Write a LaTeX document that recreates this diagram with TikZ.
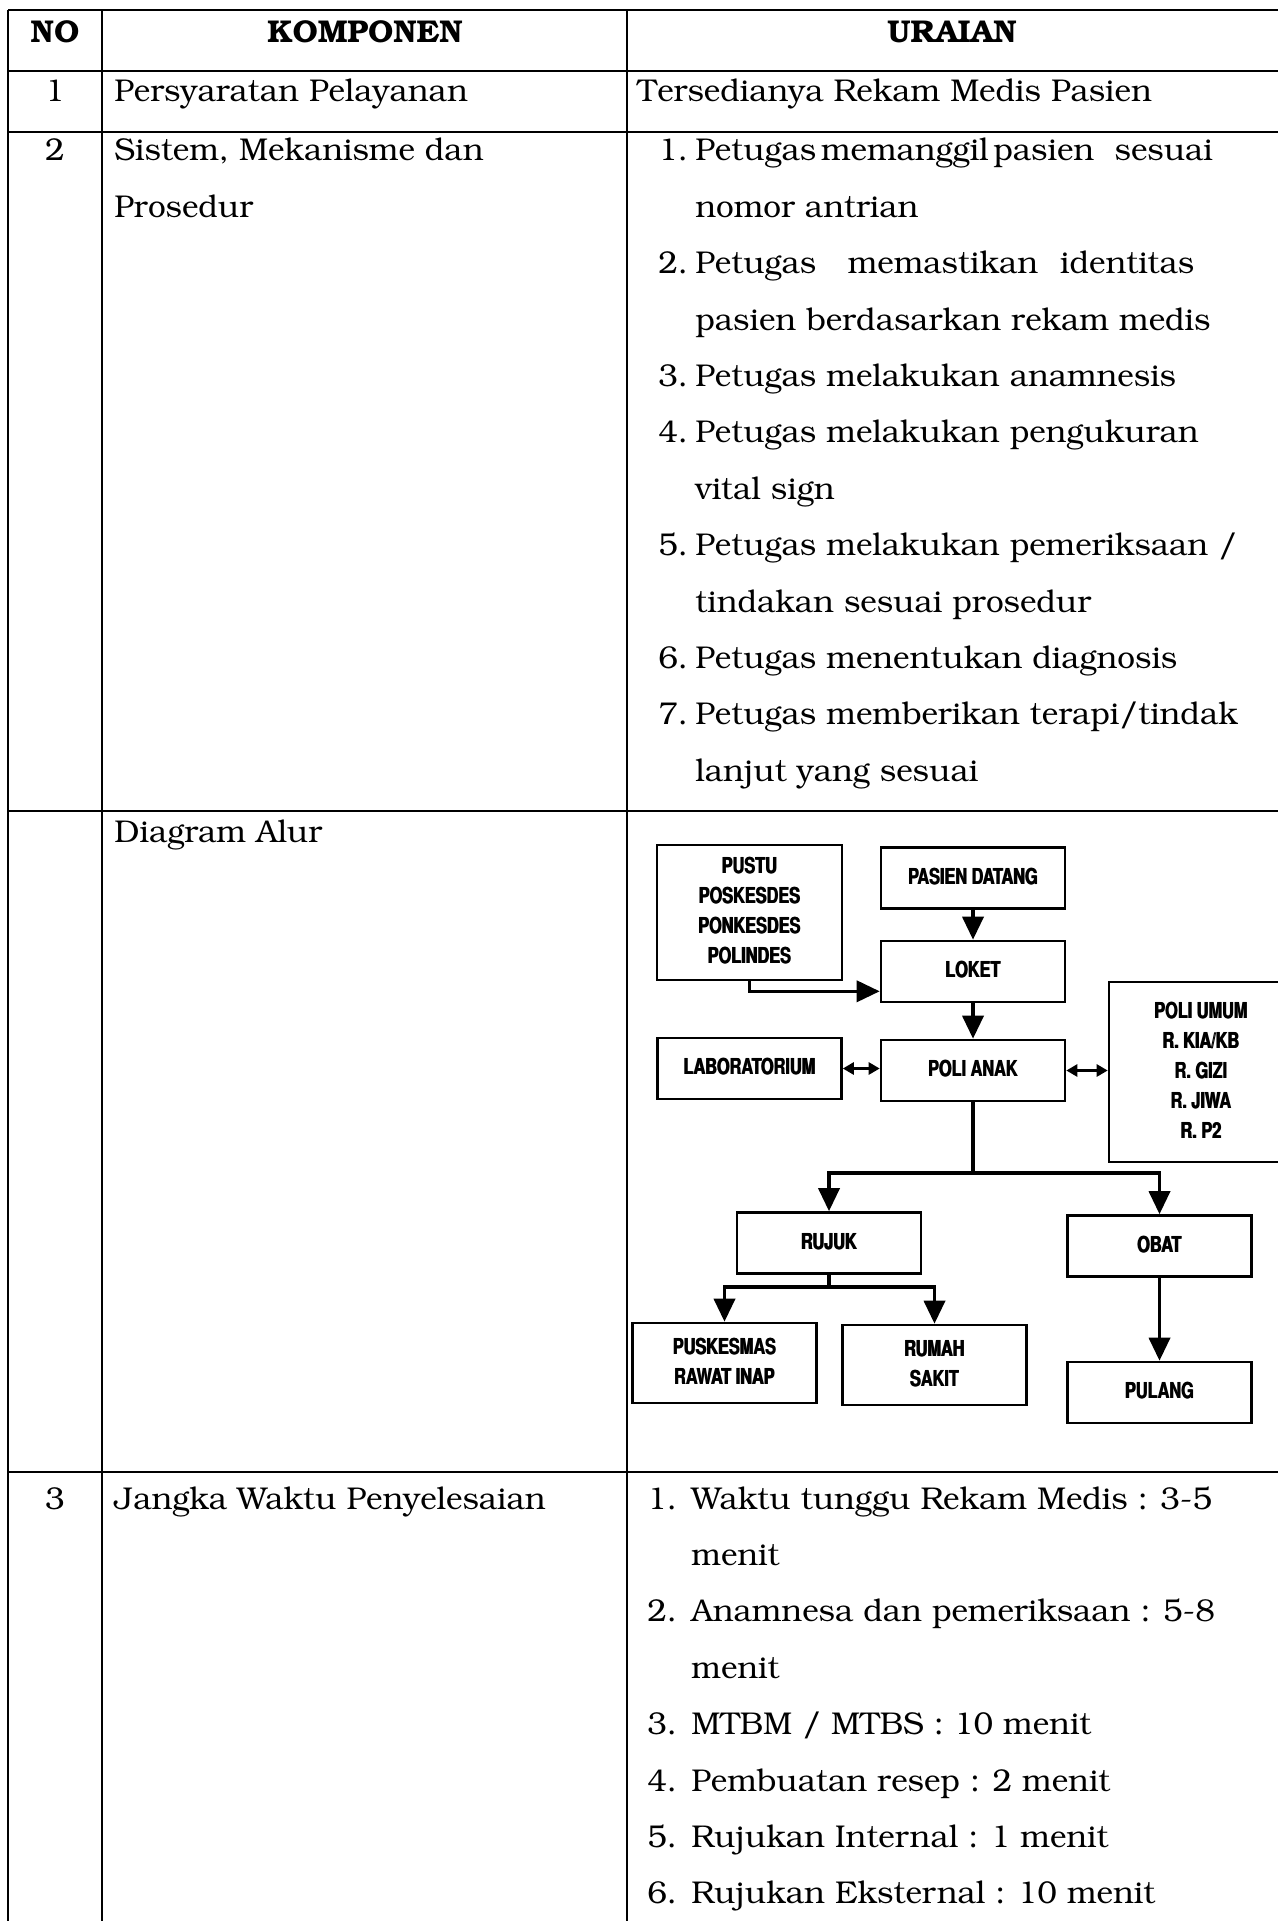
\documentclass[tikz,border=0pt]{standalone}
\usepackage[T1]{fontenc}
\usepackage{bookman}
\usepackage{graphicx}
\usetikzlibrary{arrows.meta}
\newcommand{\flowbody}[1]{\scalebox{0.74}[1]{\fontfamily{phv}\fontseries{b}\fontsize{11}{15}\selectfont\begin{tabular}{@{}c@{}}#1\end{tabular}}}
\newcommand{\flowtext}[1]{\rlap{\flowbody{#1}}\kern0.45pt\flowbody{#1}}
\begin{document}
\begin{tikzpicture}[x=0.5pt,y=-0.5pt,
    tableline/.style={line width=1.2pt},
    celltext/.style={inner sep=0pt,anchor=base west,font=\fontsize{15.75}{28.2}\selectfont},
    numtext/.style={inner sep=0pt,anchor=base,font=\fontsize{15.75}{28.2}\selectfont},
    headtext/.style={inner sep=0pt,anchor=base,font=\fontsize{15.75}{28.2}\selectfont\bfseries},
    flowbox/.style={draw,line width=1.3pt,inner sep=0pt,minimum width=92pt,minimum height=30.5pt},
    flowline/.style={line width=1.8pt},
    flowarrow/.style={line width=1.8pt,-{Triangle[length=11.5pt,width=10.5pt]}},
    twoway/.style={line width=1.3pt,{Triangle[length=5.5pt,width=6pt]}-{Triangle[length=5.5pt,width=6pt]}}]
  \fill[white] (0,0) rectangle (1278,1921);
  \useasboundingbox (0,0) rectangle (1278,1921);
  \foreach \y in {10,71,132,811,1472}
    \draw[tableline] (8,\y) -- (1278,\y);
  \foreach \x in {8,102,627}
    \draw[tableline] (\x,10) -- (\x,1921);
  \node[headtext] (hno) at (55,43) {NO};
  \node[headtext] (hkomponen) at (365,43) {KOMPONEN};
  \node[headtext] (huraian) at (952,43) {URAIAN};
  \node[numtext] (no1) at (55,102) {1};
  \node[celltext] (komponen1) at (114,102) {Persyaratan Pelayanan};
  \node[celltext] (uraian1) at (637,102) {Tersedianya Rekam Medis Pasien};
  \node[numtext] (no2) at (55,161) {2};
  \node[celltext] (komponen2) at (114,161) {\begin{tabular}[t]{@{}l@{}}Sistem, Mekanisme dan\\Prosedur\end{tabular}};
  \node[celltext] (uraian2) at (658,161) {\begin{tabular}[t]{@{}p{18.5pt}@{}l@{}}
    1. & Petugas\hspace{.15em}memanggil\hspace{.15em}pasien\hspace{.65em}sesuai\\
       & nomor antrian\\
    2. & Petugas\hspace{1em}memastikan\hspace{.7em}identitas\\
       & pasien berdasarkan rekam medis\\
    3. & Petugas melakukan anamnesis\\
    4. & Petugas melakukan pengukuran\\
       & vital sign\\
    5. & Petugas melakukan pemeriksaan /\\
       & tindakan sesuai prosedur\\
    6. & Petugas menentukan diagnosis\\
    7. & Petugas memberikan terapi/tindak\\
       & lanjut yang sesuai
  \end{tabular}};
  \node[celltext] (komponen3) at (114,842) {Diagram Alur};
  \node[numtext] (no3) at (55,1509) {3};
  \node[celltext] (komponen4) at (114,1509) {Jangka Waktu Penyelesaian};
  \node[celltext] (uraian4) at (647,1509) {\begin{tabular}[t]{@{}p{22pt}@{}l@{}}
    1. & Waktu tunggu Rekam Medis : 3-5\\
       & menit\\
    2. & Anamnesa dan pemeriksaan : 5-8\\
       & menit\\
    3. & MTBM / MTBS : 10 menit\\
    4. & Pembuatan resep : 2 menit\\
    5. & Rujukan Internal : 1 menit\\
    6. & Rujukan Eksternal : 10 menit
  \end{tabular}};
  \node[flowbox,minimum width=92.5pt,minimum height=67.5pt] (pustu) at (749.5,912.5) {\flowtext{PUSTU\\POSKESDES\\PONKESDES\\POLINDES}};
  \node[flowbox] (pasien) at (973,878) {\flowtext{PASIEN DATANG}};
  \node[flowbox] (loket) at (973,971.5) {\flowtext{LOKET}};
  \node[flowbox] (lab) at (749.5,1068.5) {\flowtext{LABORATORIUM}};
  \node[flowbox] (polianak) at (973,1070.5) {\flowtext{POLI ANAK}};
  \node[flowbox,minimum height=90pt] (poliumum) at (1201,1072) {\flowtext{POLI UMUM\\R. KIA/KB\\R. GIZI\\R. JIWA\\R. P2}};
  \node[flowbox] (rujuk) at (829,1243) {\flowtext{RUJUK}};
  \node[flowbox] (obat) at (1159.5,1246) {\flowtext{OBAT}};
  \node[flowbox,minimum height=40pt] (puskesmas) at (724.5,1363) {\flowtext{PUSKESMAS\\RAWAT INAP}};
  \node[flowbox,minimum height=40pt] (rumahsakit) at (934.5,1365) {\flowtext{RUMAH\\SAKIT}};
  \node[flowbox] (pulang) at (1159.5,1392.5) {\flowtext{PULANG}};
  \coordinate (split) at (973,1173);
  \coordinate (rujuksplit) at (829,1287);
  \begin{scope}[flowarrow]
    \draw (pasien) -- (loket);
    \draw (loket) -- (polianak);
    \draw (pustu.south) |- ([yshift=6pt]loket.south west);
    \draw (split) -| (rujuk);
    \draw (split) -| (obat);
    \draw (rujuksplit) -| (puskesmas);
    \draw (rujuksplit) -| (rumahsakit);
    \draw (obat) -- (pulang);
  \end{scope}
  \draw[flowline] (polianak) -- (split);
  \draw[flowline] (rujuk) -- (rujuksplit);
  \draw[twoway] (lab.east) -- (lab.east -| polianak.west);
  \draw[twoway] (polianak.east) -- (polianak.east -| poliumum.west);
\end{tikzpicture}
\end{document}
